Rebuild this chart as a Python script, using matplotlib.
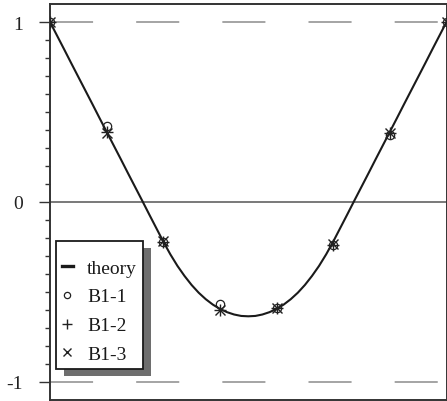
import matplotlib
matplotlib.use("Agg")
import matplotlib.pyplot as plt
from matplotlib.lines import Line2D
from matplotlib.patches import Rectangle
from matplotlib.ticker import FixedLocator, NullLocator

# ---- data ----
x_theory = [0.0, 0.125, 0.25, 0.375, 0.5, 0.625, 0.75, 0.875, 1.0, 1.125, 1.25, 1.375, 1.5, 1.625,
            1.75, 1.875, 2.0, 2.125, 2.25, 2.375, 2.5, 2.625, 2.75, 2.875, 3.0, 3.125, 3.25, 3.375,
            3.5, 3.625, 3.75, 3.875, 4.0, 4.125, 4.25, 4.375, 4.5, 4.625, 4.75, 4.875, 5.0, 5.125,
            5.25, 5.375, 5.5, 5.625, 5.75, 5.875, 6.0, 6.125, 6.25, 6.375, 6.5, 6.625, 6.75, 6.875,
            7.0]
y_theory = [1.0, 0.924, 0.848, 0.771, 0.695, 0.619, 0.543, 0.466, 0.39, 0.314, 0.238, 0.161, 0.085,
            0.009, -0.068, -0.144, -0.22, -0.291, -0.355, -0.411, -0.461, -0.504, -0.54, -0.57,
            -0.594, -0.612, -0.625, -0.633, -0.635, -0.633, -0.625, -0.612, -0.594, -0.57, -0.54,
            -0.504, -0.461, -0.411, -0.355, -0.291, -0.22, -0.144, -0.068, 0.009, 0.085, 0.161,
            0.238, 0.314, 0.39, 0.466, 0.543, 0.619, 0.695, 0.771, 0.848, 0.924, 1.0]
x_points = [0, 1, 2, 3, 4, 5, 6, 7]
b1_1 = [1.0, 0.42, -0.22, -0.567, -0.59, -0.24, 0.37, 1.0]
b1_2 = [1.0, 0.39, -0.22, -0.60, -0.59, -0.24, 0.385, 1.0]
b1_3 = [1.0, 0.385, -0.215, -0.60, -0.59, -0.235, 0.385, 1.0]
y_major = [-1, 0, 1]
y_major_labels = ['-1', '0', '1']
y_minor = [-0.9, -0.8, -0.7, -0.6, -0.5, -0.4, -0.3, -0.2, -0.1,
           0.1, 0.2, 0.3, 0.4, 0.5, 0.6, 0.7, 0.8, 0.9]
legend_labels = ['theory', 'B1-1', 'B1-2', 'B1-3']

plt.rcParams['font.family'] = ['Liberation Serif', 'DejaVu Serif']

W, H = 447, 402
fig = plt.figure(figsize=(W / 100, H / 100), dpi=100)
ax = fig.add_axes([50 / W, 1 / H, 396.5 / W, 396 / H])
ax.set_xlim(0, 7)
ax.set_ylim(-1.1, 1.1)

def ax_px(px, py):
    """image pixel -> axes fraction"""
    return ((px - 50) / 396.5, (401 - py) / 396)

# reference lines
ax.axhline(0, color='#555555', lw=1.1, zorder=1)
for v in (1, -1):
    ax.axhline(v, color='#8c8c8c', lw=1.1, linestyle=(0, (28.2, 28.2)), zorder=1)

# theory curve and samples
ax.plot(x_theory, y_theory, color='#1a1a1a', lw=1.5, zorder=2)
ax.plot(x_points, b1_1, linestyle='none', marker='o', ms=6, mfc='none', mec='#222222', mew=0.9, zorder=3)
ax.plot(x_points, b1_2, linestyle='none', marker='+', ms=8, mec='#222222', mew=1.0, zorder=3)
ax.plot(x_points, b1_3, linestyle='none', marker='x', ms=7, mec='#222222', mew=1.0, zorder=3)

# axes styling
for s in ax.spines.values():
    s.set_color('#333333')
    s.set_linewidth(1.4)
ax.xaxis.set_major_locator(NullLocator())
ax.yaxis.set_major_locator(FixedLocator(y_major))
ax.yaxis.set_minor_locator(FixedLocator(y_minor))
ax.set_yticklabels(y_major_labels)
ax.tick_params(axis='y', which='major', direction='out', length=8, width=1.0,
               color='#333333', pad=11.5, labelsize=14, labelcolor='#222222')
ax.tick_params(axis='y', which='minor', direction='out', length=3.6, width=1.0, color='#333333')

# legend frame + shadow
fx0, fy0 = ax_px(56, 370)
fx1, fy1 = ax_px(143, 242)
sx0, sy0 = ax_px(64, 377)
ax.add_patch(Rectangle((sx0, sy0), fx1 - fx0, fy1 - fy0, transform=ax.transAxes,
                       facecolor='#6e6e6e', edgecolor='none', zorder=5, clip_on=False))
ax.add_patch(Rectangle((fx0, fy0), fx1 - fx0, fy1 - fy0, transform=ax.transAxes,
                       facecolor='white', edgecolor='#1a1a1a', lw=1.3, zorder=5.5, clip_on=False))

handles = [
    Line2D([], [], color='#1a1a1a', lw=2.4),
    Line2D([], [], linestyle='none', marker='o', ms=4.5, mfc='none', mec='#222222', mew=0.9),
    Line2D([], [], linestyle='none', marker='+', ms=7, mec='#222222', mew=1.0),
    Line2D([], [], linestyle='none', marker='x', ms=6, mec='#222222', mew=1.0),
]
lx, ly = ax_px(61.5, 260)
leg = ax.legend(handles, legend_labels, loc='upper left', bbox_to_anchor=(lx, ly),
                frameon=False, borderpad=0, borderaxespad=0, fontsize=14,
                handlelength=0.6, handletextpad=0.72, labelspacing=0.58)
leg.set_zorder(6)
for t in leg.get_texts():
    t.set_color('#1a1a1a')

fig.savefig('out.png', dpi=100)
